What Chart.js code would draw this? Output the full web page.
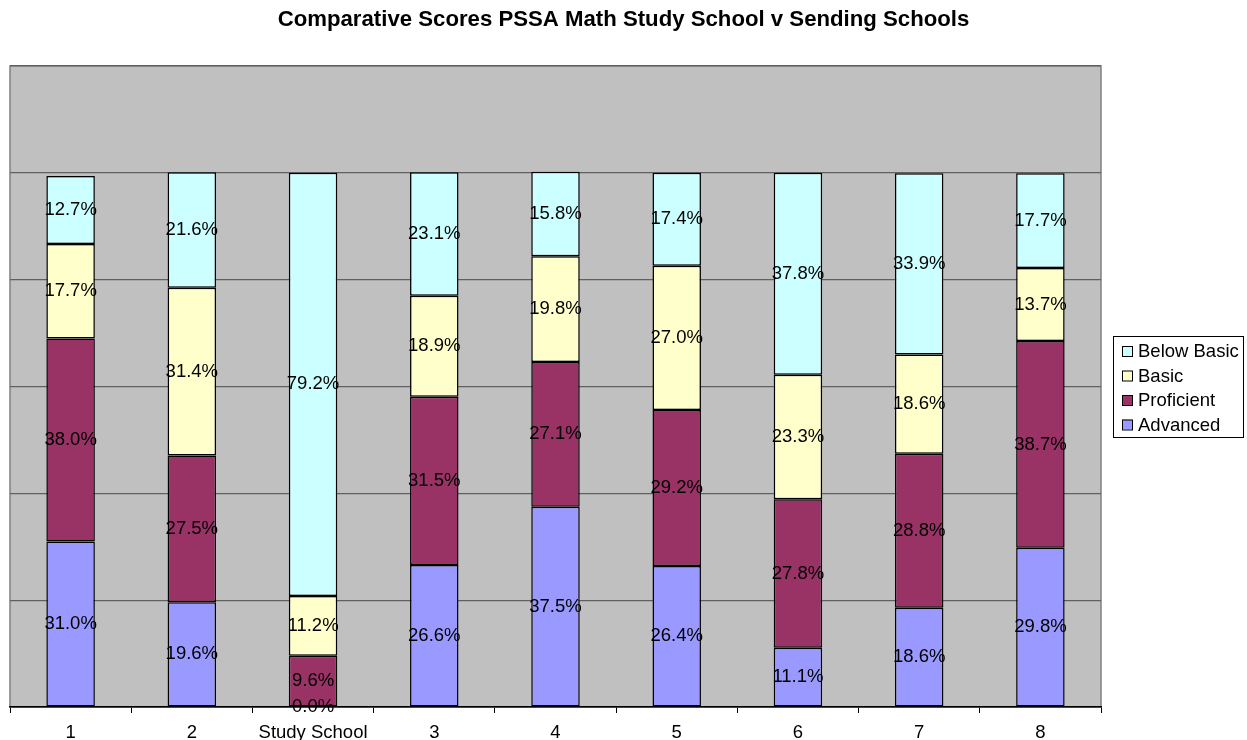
<!DOCTYPE html>
<html>
<head>
<meta charset="utf-8">
<script src="https://cdn.jsdelivr.net/npm/chart.js@4/dist/chart.umd.min.js"></script>
<style>
  html, body { margin: 0; padding: 0; background: #fff; }
  #wrap { width: 1247px; height: 740px; }
</style>
</head>
<body>
<div id="wrap"><canvas id="myChart" width="1247" height="740"></canvas></div>
<script>
const schools = ['1', '2', 'Study School', '3', '4', '5', '6', '7', '8'];
const advanced = [31.0, 19.6, 0.0, 26.6, 37.5, 26.4, 11.1, 18.6, 29.8];
const proficient = [38.0, 27.5, 9.6, 31.5, 27.1, 29.2, 27.8, 28.8, 38.7];
const basic = [17.7, 31.4, 11.2, 18.9, 19.8, 27.0, 23.3, 18.6, 13.7];
const belowBasic = [12.7, 21.6, 79.2, 23.1, 15.8, 17.4, 37.8, 33.9, 17.7];

const FONT = 'Arial, "Liberation Sans", sans-serif';
const TITLE = 'Comparative Scores PSSA Math Study School v Sending Schools';

// gray plot background + frame, title centred on the whole canvas
const plotBg = {
    id: 'plotBg',
    beforeDraw(chart) {
        const { ctx, chartArea: a } = chart;
        ctx.save();
        ctx.fillStyle = '#c0c0c0';
        ctx.fillRect(a.left, a.top, a.right - a.left, a.bottom - a.top);
        ctx.strokeStyle = '#808080';
        ctx.lineWidth = 1.5;
        ctx.strokeRect(a.left, a.top, a.right - a.left, a.bottom - a.top);
        ctx.fillStyle = '#000';
        ctx.font = 'bold 22.2px ' + FONT;
        ctx.textAlign = 'center';
        ctx.textBaseline = 'middle';
        ctx.fillText(TITLE, chart.width / 2, 20);
        ctx.restore();
    }
};

// percentage labels in the middle of each segment
const barLabels = {
    id: 'barLabels',
    afterDatasetsDraw(chart) {
        const ctx = chart.ctx;
        ctx.save();
        ctx.font = '18.5px ' + FONT;
        ctx.fillStyle = '#000';
        ctx.textAlign = 'center';
        ctx.textBaseline = 'middle';
        chart.data.datasets.forEach((ds, i) => {
            chart.getDatasetMeta(i).data.forEach((el, j) => {
                ctx.fillText(ds.data[j].toFixed(1) + '%', el.x, (el.y + el.base) / 2);
            });
        });
        ctx.restore();
    }
};

// boxed legend on the right, reversed order
const boxLegend = {
    id: 'boxLegend',
    afterDraw(chart) {
        const ctx = chart.ctx;
        const x = 1113, y = 336, w = 130, h = 101;
        ctx.save();
        ctx.fillStyle = '#fff';
        ctx.fillRect(x, y, w, h);
        ctx.strokeStyle = '#000';
        ctx.lineWidth = 1;
        ctx.strokeRect(x + 0.5, y + 0.5, w, h);
        ctx.font = '18.5px ' + FONT;
        ctx.textBaseline = 'middle';
        const items = chart.data.datasets.slice().reverse();
        items.forEach((ds, i) => {
            const cy = y + 15 + i * 24.5;
            ctx.fillStyle = ds.backgroundColor;
            ctx.fillRect(x + 9, cy - 5, 10, 10);
            ctx.strokeStyle = '#000';
            ctx.lineWidth = 1;
            ctx.strokeRect(x + 9.5, cy - 4.5, 10, 10);
            ctx.fillStyle = '#000';
            ctx.fillText(ds.label, x + 25, cy + 1);
        });
        ctx.restore();
    }
};

const seg = (label, data, color) => ({
    label: label,
    data: data,
    backgroundColor: color,
    borderColor: '#000',
    borderWidth: 1.5,
    borderSkipped: false,
    categoryPercentage: 1.0,
    barPercentage: 0.4
});

const myChart = new Chart(document.getElementById('myChart'), {
    type: 'bar',
    data: {
        labels: schools,
        datasets: [
            seg('Advanced', advanced, '#9999ff'),
            seg('Proficient', proficient, '#993366'),
            seg('Basic', basic, '#ffffcc'),
            seg('Below Basic', belowBasic, '#ccffff')
        ]
    },
    options: {
        responsive: false,
        animation: false,
        layout: { padding: { left: 10, right: 146, top: 66, bottom: 0 } },
        plugins: {
            legend: { display: false },
            tooltip: { enabled: false },
            title: { display: false }
        },
        scales: {
            x: {
                stacked: true,
                afterFit: (scale) => { scale.height = 33; },
                grid: {
                    offset: true,
                    drawOnChartArea: false,
                    color: '#000',
                    tickLength: 6
                },
                border: { color: '#000', width: 1.5 },
                ticks: {
                    color: '#000',
                    font: { family: FONT, size: 18.5 },
                    padding: 9,
                    maxRotation: 0
                }
            },
            y: {
                stacked: true,
                min: 0,
                max: 120,
                ticks: { display: false, stepSize: 20 },
                grid: { color: '#606060', lineWidth: 1.2, drawTicks: false },
                border: { display: false }
            }
        }
    },
    plugins: [plotBg, barLabels, boxLegend]
});
</script>
</body>
</html>
